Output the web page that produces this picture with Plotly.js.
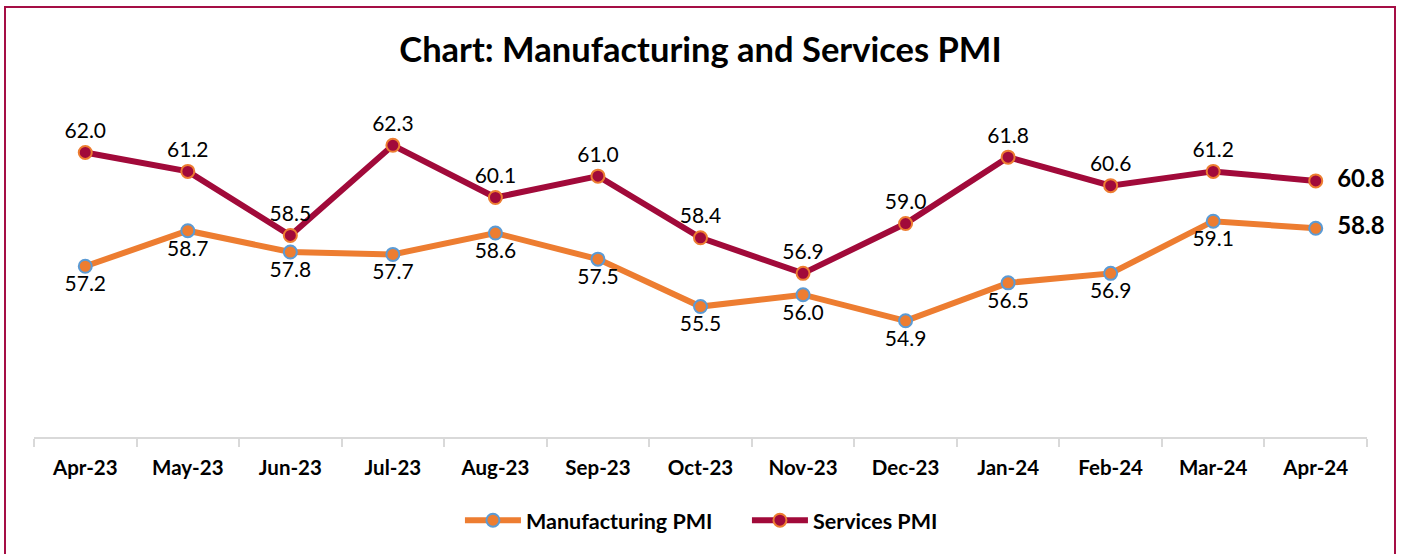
<!DOCTYPE html>
<html>
<head>
<meta charset="utf-8">
<script src="https://cdn.plot.ly/plotly-3.0.1.min.js"></script>
<style>
html,body{margin:0;padding:0;background:#fff;}
#wrap{position:relative;width:1401px;height:554px;overflow:hidden;}
#chart{position:absolute;left:0;top:0;width:1401px;height:554px;}
#frame{position:absolute;left:4px;top:6px;width:1388px;height:600px;border:2px solid #A50E45;pointer-events:none;}
</style>
</head>
<body>
<div id="wrap"><div id="chart"></div><div id="frame"></div></div>
<script>
const months = ["Apr-23","May-23","Jun-23","Jul-23","Aug-23","Sep-23","Oct-23","Nov-23","Dec-23","Jan-24","Feb-24","Mar-24","Apr-24"];
const manufacturing = [57.2,58.7,57.8,57.7,58.6,57.5,55.5,56.0,54.9,56.5,56.9,59.1,58.8];
const services = [62.0,61.2,58.5,62.3,60.1,61.0,58.4,56.9,59.0,61.8,60.6,61.2,60.8];

const FONT = "Lato, 'Open Sans', sans-serif";
const last = months.length - 1;
function labels(vals){ return vals.map((v,i)=> i===last ? "\u00a0\u00a0<b>"+v.toFixed(1)+"</b>" : v.toFixed(1)); }
function positions(vals, pos){ return vals.map((v,i)=> i===last ? "middle right" : pos); }
function sizes(vals){ return vals.map((v,i)=> i===last ? 24 : 21); }

const traces = [
  {
    x: months, y: manufacturing, name: "Manufacturing PMI",
    type: "scatter", mode: "lines+markers+text",
    line: {color: "#ED7D31", width: 6},
    marker: {size: 13, color: "#ED7D31", line: {color: "#5B9BD5", width: 2}},
    text: labels(manufacturing), textposition: positions(manufacturing, "bottom center"),
    textfont: {family: FONT, size: sizes(manufacturing), color: "#000"},
    cliponaxis: false, hoverinfo: "x+y"
  },
  {
    x: months, y: services, name: "Services PMI",
    type: "scatter", mode: "lines+markers+text",
    line: {color: "#A10A3A", width: 6},
    marker: {size: 13, color: "#A10A3A", line: {color: "#ED7D31", width: 2}},
    text: labels(services), textposition: positions(services, "top center"),
    textfont: {family: FONT, size: sizes(services), color: "#000"},
    cliponaxis: false, hoverinfo: "x+y"
  }
];

const layout = {
  width: 1401, height: 554,
  margin: {l: 34, r: 34, t: 104.5, b: 117},
  paper_bgcolor: "#fff", plot_bgcolor: "#fff",
  title: {text: "<b>Chart: Manufacturing and Services PMI</b>", x: 0.5, xanchor: "center",
          yref: "container", y: 0.909, yanchor: "middle",
          font: {family: FONT, size: 34.5, color: "#000"}},
  xaxis: {
    type: "category", range: [-0.5, 12.5], showgrid: false, zeroline: false,
    showline: true, linecolor: "#D9D9D9", linewidth: 2,
    ticks: "outside", tickson: "boundaries", ticklen: 8, tickcolor: "#D9D9D9", tickwidth: 2,
    ticklabelstandoff: 11,
    tickfont: {family: FONT, size: 20.5, color: "#000", weight: "bold"},
    automargin: false
  },
  yaxis: {range: [50, 64], visible: false, showgrid: false, zeroline: false, automargin: false},
  showlegend: true,
  legend: {orientation: "h", x: 0.3283, xanchor: "left", xref: "container",
           yref: "container", y: 0.061, yanchor: "middle",
           entrywidth: 216, entrywidthmode: "pixels",
           font: {family: FONT, size: 21.5, color: "#000", weight: "bold"}, itemwidth: 56, traceorder: "normal"},
  hovermode: "closest"
};

Plotly.newPlot("chart", traces, layout, {displayModeBar: false, staticPlot: true});
</script>
</body>
</html>
